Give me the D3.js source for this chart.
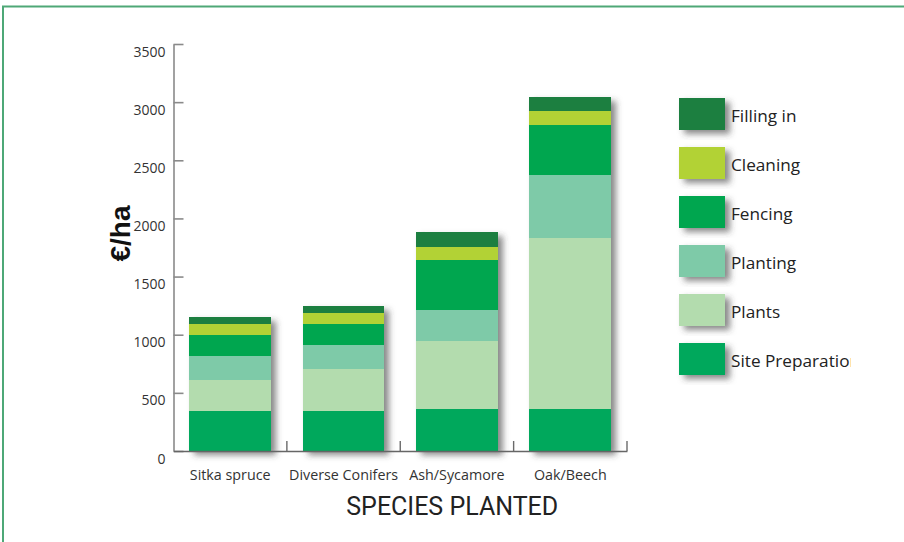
<!DOCTYPE html>
<html>
<head>
<meta charset="utf-8">
<script src="https://cdn.jsdelivr.net/npm/d3@7"></script>
<style>
  html, body { margin: 0; padding: 0; background: #ffffff; }
  svg { display: block; }
</style>
</head>
<body>
<svg id="chart" width="904" height="542"></svg>
<script>
// ---- data ----
const categories = ["Sitka spruce", "Diverse Conifers", "Ash/Sycamore", "Oak/Beech"];
const seriesNames = ["Site Preparation", "Plants", "Planting", "Fencing", "Cleaning", "Filling in"];
const sitePreparation = [340, 340, 365, 365];
const plants          = [270, 365, 580, 1465];
const planting        = [210, 205, 270, 545];
const fencing         = [180, 180, 425, 430];
const cleaning        = [90, 95, 115, 115];
const fillingIn       = [60, 65, 125, 125];
const yTicks = [0, 500, 1000, 1500, 2000, 2500, 3000, 3500];
const seriesColors = ["#00a85c", "#b3dcae", "#7ecaa8", "#00a650", "#b2d235", "#1b7f3f"];
const yLabel = "€/ha";
const xLabel = "SPECIES PLANTED";

const seriesValues = [sitePreparation, plants, planting, fencing, cleaning, fillingIn];
const rows = categories.map((c, i) => {
  const r = { category: c };
  seriesNames.forEach((s, j) => { r[s] = seriesValues[j][i]; });
  return r;
});

const svg = d3.select("#chart");
const defs = svg.append("defs");
const f = defs.append("filter").attr("id", "shadow")
  .attr("x", "-20%").attr("y", "-20%").attr("width", "150%").attr("height", "150%");
f.append("feDropShadow").attr("dx", 5).attr("dy", 4).attr("stdDeviation", 3.2)
  .attr("flood-color", "#3d3d3d").attr("flood-opacity", 0.6);
const clip = defs.append("clipPath").attr("id", "legclip");
clip.append("rect").attr("x", 0).attr("y", 0).attr("width", 851).attr("height", 542);

// frame
svg.append("path")
  .attr("d", d3.line()([[3, 542], [3, 6.5], [904, 6.5]]))
  .attr("fill", "none").attr("stroke", "#4ea877").attr("stroke-width", 2);

const x = d3.scaleBand().domain(categories).range([173.5, 627]).paddingInner(0.28).paddingOuter(0.14);
const y = d3.scaleLinear().domain([0, 3500]).range([451, 44]);

const stack = d3.stack().keys(seriesNames);
const stacked = stack(rows);
const color = d3.scaleOrdinal().domain(seriesNames).range(seriesColors);

// bars grouped by category (for shadow)
const barGroups = svg.append("g").selectAll("g.bar").data(categories).join("g")
  .attr("class", "bar").attr("filter", "url(#shadow)");
barGroups.each(function(cat, ci) {
  d3.select(this).selectAll("rect").data(stacked).join("rect")
    .attr("x", x(cat))
    .attr("width", x.bandwidth())
    .attr("y", s => y(s[ci][1]))
    .attr("height", s => y(s[ci][0]) - y(s[ci][1]))
    .attr("fill", s => color(s.key))
    .attr("shape-rendering", "crispEdges");
});

// y axis
const yAxis = svg.append("g").attr("transform", "translate(173.5,0)")
  .call(d3.axisLeft(y).tickValues(yTicks).tickFormat(d3.format("d"))
    .tickSizeInner(-10).tickSizeOuter(0).tickPadding(8));
yAxis.select(".domain").attr("stroke", "#8a8a8a").attr("stroke-width", 1.6);
yAxis.selectAll(".tick line").attr("stroke", "#8a8a8a").attr("stroke-width", 1.6);
yAxis.selectAll(".tick text").attr("y", 7).attr("dy", "0.36em")
  .attr("font-family", "'Open Sans', sans-serif").attr("font-size", 14).attr("fill", "#333");

// x axis baseline + boundary ticks
const xAxis = svg.append("g").attr("transform", "translate(0,451)")
  .call(d3.axisBottom(x).tickSize(0).tickPadding(19));
xAxis.select(".domain").attr("stroke", "#666").attr("stroke-width", 1.6);
xAxis.selectAll(".tick text")
  .attr("font-family", "'Open Sans', sans-serif").attr("font-size", 14.3).attr("fill", "#333");
xAxis.selectAll("line.bound").data(categories).join("line").attr("class", "bound")
  .attr("x1", d => x(d) + x.bandwidth() + x.step() * x.paddingInner() / 2)
  .attr("x2", d => x(d) + x.bandwidth() + x.step() * x.paddingInner() / 2)
  .attr("y1", 0).attr("y2", -10)
  .attr("stroke", "#6a6a6a").attr("stroke-width", 1.4);

// axis titles
svg.append("text")
  .attr("transform", `translate(130,${(y(0) + y(3500)) / 2 - 14}) rotate(-90)`)
  .attr("text-anchor", "middle")
  .attr("font-family", "'Liberation Sans', Arial, sans-serif").attr("font-weight", "bold")
  .attr("font-size", 28).attr("fill", "#111")
  .text(yLabel);
svg.append("text")
  .attr("x", (x.range()[0] + x.range()[1]) / 2 + 52).attr("y", 515)
  .attr("text-anchor", "middle")
  .attr("font-family", "Roboto, 'Liberation Sans', sans-serif")
  .attr("font-size", 25).attr("fill", "#222")
  .text(xLabel);

// legend
const legendOrder = seriesNames.slice().reverse();
const leg = svg.append("g").attr("clip-path", "url(#legclip)");
const li = leg.selectAll("g").data(legendOrder).join("g")
  .attr("transform", (d, i) => `translate(679,${98 + i * 49})`);
li.append("rect").attr("width", 46).attr("height", 32)
  .attr("fill", d => color(d)).attr("filter", "url(#shadow)");
li.append("text").attr("x", 52).attr("y", 18).attr("dy", "0.35em")
  .attr("font-family", "'Open Sans', sans-serif").attr("font-size", 17.2).attr("fill", "#222")
  .text(d => d);
</script>
</body>
</html>
